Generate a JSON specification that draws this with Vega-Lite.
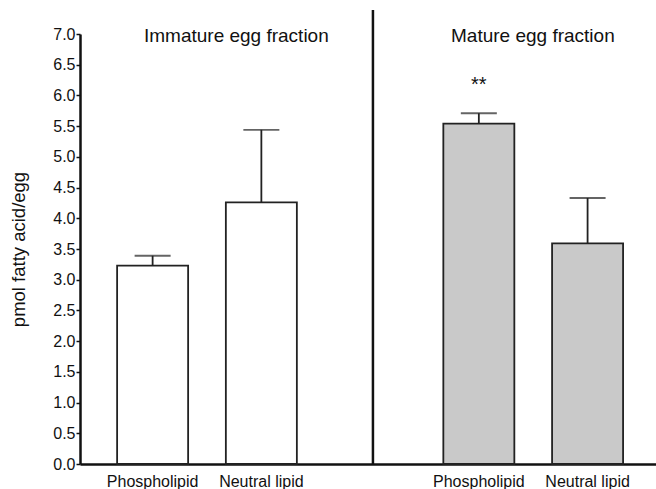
{
  "$schema": "https://vega.github.io/schema/vega-lite/v6.json",
  "autosize": "none",
  "width": 576,
  "height": 430,
  "padding": {"left": 80, "top": 34, "right": 0, "bottom": 25},
  "background": "white",
  "config": {
    "view": {"stroke": null},
    "font": "Liberation Sans",
    "axis": {"labelFont": "Liberation Sans", "titleFont": "Liberation Sans", "labelColor": "#111", "titleColor": "#111", "titleFontWeight": "normal"}
  },
  "data": {
    "values": [
      {"key": "Immature|Phospholipid", "group": "Immature", "lipid": "Phospholipid", "mean": 3.23, "upper": 3.39, "sig": ""},
      {"key": "Immature|Neutral lipid", "group": "Immature", "lipid": "Neutral lipid", "mean": 4.26, "upper": 5.44, "sig": ""},
      {"key": "Mature|Phospholipid", "group": "Mature", "lipid": "Phospholipid", "mean": 5.54, "upper": 5.71, "sig": "**"},
      {"key": "Mature|Neutral lipid", "group": "Mature", "lipid": "Neutral lipid", "mean": 3.59, "upper": 4.33, "sig": ""}
    ]
  },
  "encoding": {
    "x": {
      "field": "key",
      "type": "nominal",
      "sort": null,
      "scale": {
        "domain": ["Immature|Phospholipid", "Immature|Neutral lipid", "gap", "Mature|Phospholipid", "Mature|Neutral lipid"],
        "paddingInner": 0.347,
        "paddingOuter": 0.322,
        "align": 0.53
      },
      "axis": {
        "title": null,
        "labelExpr": "datum.label == 'gap' ? '' : split(datum.label, '|')[1]",
        "labelAngle": 0,
        "labelFontSize": 16,
        "labelPadding": 9,
        "ticks": false,
        "domainColor": "#111",
        "domainWidth": 2.5
      }
    }
  },
  "layer": [
    {
      "mark": {"type": "bar", "stroke": "#222", "strokeWidth": 1.8},
      "encoding": {
        "y": {
          "field": "mean",
          "type": "quantitative",
          "scale": {"domain": [0, 7], "nice": false},
          "axis": {
            "title": "pmol fatty acid/egg",
            "titleFontSize": 18.5,
            "titlePadding": 24,
            "values": [0, 0.5, 1, 1.5, 2, 2.5, 3, 3.5, 4, 4.5, 5, 5.5, 6, 6.5, 7],
            "tickCount": 20,
            "format": ".1f",
            "labelOverlap": false,
            "labelFontSize": 16,
            "labelPadding": 1,
            "tickSize": 4,
            "tickWidth": 1.5,
            "tickColor": "#111",
            "domainColor": "#111",
            "domainWidth": 2.5,
            "grid": false
          }
        },
        "color": {
          "field": "group",
          "type": "nominal",
          "scale": {"domain": ["Immature", "Mature"], "range": ["#ffffff", "#c9c9c9"]},
          "legend": null
        }
      }
    },
    {
      "mark": {"type": "rule", "stroke": "#222", "strokeWidth": 1.8},
      "encoding": {
        "y": {"field": "mean", "type": "quantitative"},
        "y2": {"field": "upper"}
      }
    },
    {
      "mark": {"type": "tick", "color": "#222", "size": 36, "thickness": 1.8, "orient": "horizontal"},
      "encoding": {
        "y": {"field": "upper", "type": "quantitative"}
      }
    },
    {
      "transform": [{"filter": "datum.sig != ''"}],
      "mark": {"type": "text", "fontSize": 20, "dy": -28, "baseline": "middle", "color": "#111"},
      "encoding": {
        "y": {"field": "upper", "type": "quantitative"},
        "text": {"field": "sig"}
      }
    },
    {
      "data": {"values": [{"d": "divider"}]},
      "mark": {"type": "rule", "stroke": "#111", "strokeWidth": 2.5},
      "encoding": {
        "x": {"datum": "gap", "bandPosition": 0.54},
        "y": {"datum": 0, "type": "quantitative"},
        "y2": {"datum": 7.39}
      }
    },
    {
      "data": {"values": [{"t": "Immature egg fraction"}]},
      "mark": {"type": "text", "fontSize": 19, "dx": -25, "dy": 2, "baseline": "middle", "color": "#111"},
      "encoding": {
        "x": {"datum": "Immature|Neutral lipid"},
        "y": {"datum": 7.0, "type": "quantitative"},
        "text": {"field": "t"}
      }
    },
    {
      "data": {"values": [{"t": "Mature egg fraction"}]},
      "mark": {"type": "text", "fontSize": 19, "dx": 54, "dy": 2, "baseline": "middle", "color": "#111"},
      "encoding": {
        "x": {"datum": "Mature|Phospholipid"},
        "y": {"datum": 7.0, "type": "quantitative"},
        "text": {"field": "t"}
      }
    }
  ]
}
